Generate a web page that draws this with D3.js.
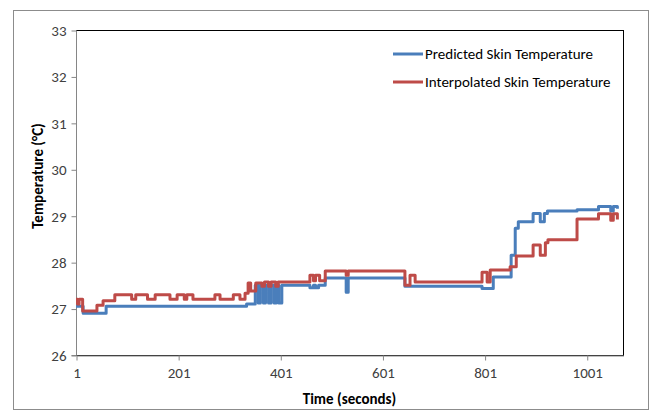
<!DOCTYPE html>
<html>
<head>
<meta charset="utf-8">
<script src="https://cdn.jsdelivr.net/npm/d3@7"></script>
<style>
  body { margin: 0; background: #fff; }
  text { font-family: Carlito, Calibri, 'Liberation Sans', Arial, sans-serif; }
</style>
</head>
<body>
<div id="chart"></div>
<script>
// values (step breakpoints: time -> temperature)
const predTime = [1, 15, 60, 335, 352, 358, 362, 368, 372, 378, 383, 389, 393, 398, 404, 459, 466, 470, 476, 489, 530, 534, 645, 796, 818, 853, 861, 867, 896, 910, 918, 924, 982, 1024, 1048, 1053, 1061]
const predTemp = [27.05, 26.9, 27.05, 27.1, 27.5, 27.12, 27.5, 27.12, 27.5, 27.12, 27.5, 27.12, 27.5, 27.12, 27.5, 27.45, 27.5, 27.45, 27.5, 27.66, 27.35, 27.66, 27.48, 27.43, 27.68, 28.15, 28.73, 28.87, 29.05, 28.87, 29.05, 29.1, 29.13, 29.2, 29.1, 29.2, 29.15]

const interpTime = [1, 4, 7, 14, 42, 54, 77, 110, 118, 141, 156, 185, 199, 213, 218, 230, 273, 283, 309, 322, 332, 338, 343, 353, 365, 370, 378, 383, 392, 397, 459, 466, 470, 478, 489, 530, 534, 645, 655, 665, 796, 806, 812, 851, 863, 896, 910, 920, 925, 982, 1024, 1048, 1053, 1061]
const interpTemp = [27.2, 27.1, 27.2, 26.95, 27.07, 27.17, 27.3, 27.2, 27.3, 27.2, 27.3, 27.2, 27.3, 27.2, 27.3, 27.2, 27.3, 27.2, 27.3, 27.2, 27.33, 27.55, 27.38, 27.55, 27.48, 27.57, 27.48, 27.57, 27.48, 27.57, 27.72, 27.6, 27.72, 27.6, 27.81, 27.72, 27.81, 27.5, 27.72, 27.57, 27.78, 27.57, 27.83, 27.9, 28.13, 28.37, 28.15, 28.42, 28.48, 28.93, 29.04, 28.9, 29.04, 28.92]

const xTicks = [1, 201, 401, 601, 801, 1001]
const yTicks = [26, 27, 28, 29, 30, 31, 32, 33]
const seriesNames = ['Predicted Skin Temperature', 'Interpolated Skin Temperature']
const seriesColors = ['#4a7ebb', '#be4b48']

const width = 655
const height = 411
const plot = { left: 76, top: 30, right: 623, bottom: 355 }

const svg = d3.select('#chart')
  .append('svg')
  .attr('width', width)
  .attr('height', height)

// outer chart border
svg.append('rect')
  .attr('x', 13.5)
  .attr('y', 10.5)
  .attr('width', 635)
  .attr('height', 399)
  .attr('fill', '#fff')
  .attr('stroke', '#8c8c8c')
  .attr('stroke-width', 1)

const x = d3.scaleLinear().domain([1, 1072]).range([plot.left, plot.right])
const y = d3.scaleLinear().domain([26, 33]).range([plot.bottom, plot.top])

// plot area border
svg.append('rect')
  .attr('x', plot.left + 0.5)
  .attr('y', plot.top + 0.5)
  .attr('width', plot.right - plot.left)
  .attr('height', plot.bottom - plot.top)
  .attr('fill', 'none')
  .attr('stroke', '#000')
  .attr('stroke-width', 1)

const yAxis = svg.append('g')
  .attr('transform', `translate(${plot.left + 0.5},0.5)`)
  .call(d3.axisLeft(y).tickValues(yTicks).tickSize(5).tickPadding(5).tickFormat(d3.format('d')))

const xAxis = svg.append('g')
  .attr('transform', `translate(0.5,${plot.bottom + 0.5})`)
  .call(d3.axisBottom(x).tickValues(xTicks).tickSize(5).tickPadding(7).tickSizeOuter(0).tickFormat(d3.format('d')))

for (const ax of [xAxis, yAxis]) {
  ax.select('.domain').attr('stroke', '#868686')
  ax.selectAll('.tick line').attr('stroke', '#868686')
  ax.selectAll('.tick text')
    .attr('fill', '#404040')
    .style('font-size', '15px')
}
yAxis.select('.domain').attr('d', `M-5,${plot.bottom}H0V${plot.top}`)

const line = d3.line()
  .x(d => x(d[0]))
  .y(d => y(d[1]))
  .curve(d3.curveStepAfter)

const predData = predTime.map((t, i) => [t, predTemp[i]])
const interpData = interpTime.map((t, i) => [t, interpTemp[i]])

svg.append('g')
  .selectAll('path')
  .data([predData, interpData])
  .enter()
  .append('path')
  .attr('d', line)
  .attr('fill', 'none')
  .attr('stroke', (d, i) => seriesColors[i])
  .attr('stroke-width', 3)
  .attr('stroke-linejoin', 'round')

// axis titles
svg.append('text')
  .attr('x', (plot.left + plot.right) / 2)
  .attr('y', 404)
  .attr('text-anchor', 'middle')
  .style('font-size', '15px')
  .style('font-weight', 'bold')
  .attr('fill', '#000')
  .text('Time (seconds)')

svg.append('text')
  .attr('transform', 'translate(43,176) rotate(-90)')
  .attr('text-anchor', 'middle')
  .style('font-size', '15px')
  .style('font-weight', 'bold')
  .attr('fill', '#000')
  .text('Temperature (°C)')

// legend
const legend = svg.append('g')
  .selectAll('g')
  .data(seriesNames)
  .enter()
  .append('g')
  .attr('transform', (d, i) => `translate(393,${54 + i * 28})`)

legend.append('line')
  .attr('x1', 0)
  .attr('x2', 30)
  .attr('stroke', (d, i) => seriesColors[i])
  .attr('stroke-width', 3)

legend.append('text')
  .attr('x', 32)
  .attr('y', 5)
  .style('font-size', '15px')
  .attr('fill', '#000')
  .text(d => d)
</script>
</body>
</html>
